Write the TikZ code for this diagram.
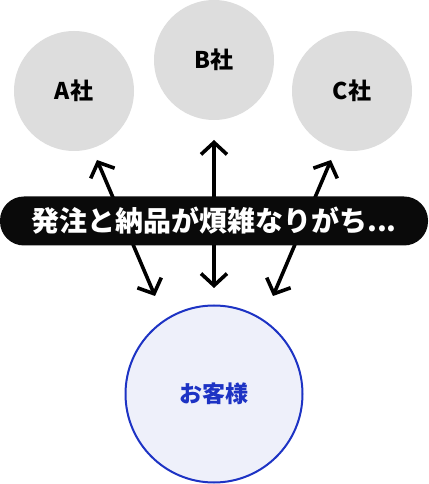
\documentclass[tikz,border=0pt]{standalone}
\usepackage{fontspec}
\setmainfont{Noto Sans CJK JP}
\usetikzlibrary{arrows.meta}
\definecolor{compgray}{HTML}{DDDDDD}
\definecolor{clientblue}{HTML}{1D33C4}
\definecolor{clientfill}{HTML}{EEF0FA}
\definecolor{bannerblack}{HTML}{0A0A0A}

\begin{document}
\begin{tikzpicture}[x=1pt, y=1pt, >={Straight Barb[length=12pt, width=26pt]}]
    \tikzstyle{company} = [circle, fill=compgray, minimum size=120pt, inner sep=0pt, font=\fontsize{23}{26}\selectfont\bfseries]
    \tikzstyle{client} = [circle, draw=clientblue, line width=2pt, fill=clientfill, minimum size=177pt, inner sep=0pt, text=clientblue, font=\fontsize{23}{26}\selectfont\bfseries]
    \tikzstyle{banner} = [rectangle, fill=bannerblack, rounded corners=24pt, minimum width=428pt, minimum height=49pt, inner sep=0pt, text=white, font=\fontsize{28}{31}\selectfont\bfseries]
    \tikzstyle{line} = [draw, <->, line width=3.6pt]

    \useasboundingbox (0,0) rectangle (428,484);

    % Nodes
    \node [company] (compA) at (74,393) {A社};
    \node [company] (compB) at (214,424) {B社};
    \node [company] (compC) at (352,393) {C社};
    \node [client] (client) at (214,90) {お客様};

    % Arrow ends
    \coordinate (aUp) at (97,324);
    \coordinate (aDown) at (155,188);
    \coordinate (bUp) at (214,344);
    \coordinate (bDown) at (214,196);
    \coordinate (cUp) at (331,324);
    \coordinate (cDown) at (273,188);

    % Paths
    \path [line] (aUp) -- (aDown);
    \path [line] (bUp) -- (bDown);
    \path [line] (cUp) -- (cDown);

    % Banner on top
    \node [banner] (banner) at (214,263) {発注と納品が煩雑なりがち...};

\end{tikzpicture}
\end{document}
